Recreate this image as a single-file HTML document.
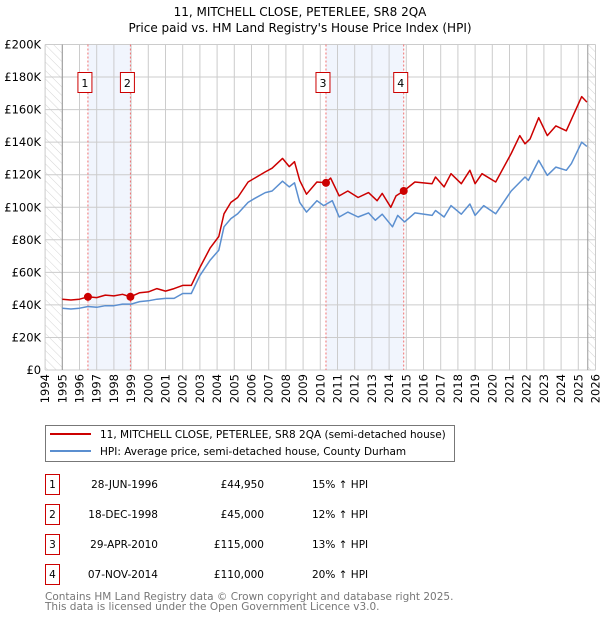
<!DOCTYPE html>
<html><head><meta charset="utf-8"><style>
body{margin:0;background:#fff;font-family:"Liberation Sans","DejaVu Sans",sans-serif;}
svg text{font-family:"DejaVu Sans","Liberation Sans",sans-serif;}
</style></head><body>
<svg id="chart" width="600" height="620" viewBox="0 0 600 620">
<defs>
<pattern id="hatch" width="6" height="6" patternUnits="userSpaceOnUse" patternTransform="rotate(-45)">
<line x1="0" y1="0" x2="0" y2="6" stroke="#d4d4d4" stroke-width="1"/></pattern>
</defs>
<text x="300" y="16" text-anchor="middle" font-size="12" fill="#000">11, MITCHELL CLOSE, PETERLEE, SR8 2QA</text>
<text x="300" y="32" text-anchor="middle" font-size="12" fill="#000">Price paid vs. HM Land Registry's House Price Index (HPI)</text>
<g id="plot"></g>
<g>
<rect x="45.5" y="425.5" width="409" height="36" fill="#fff" stroke="#777"/>
<line x1="50" y1="434" x2="91" y2="434" stroke="#cc0000" stroke-width="2"/>
<text x="100" y="438" font-size="10.5">11, MITCHELL CLOSE, PETERLEE, SR8 2QA (semi-detached house)</text>
<line x1="50" y1="451" x2="91" y2="451" stroke="#5b8fd0" stroke-width="2"/>
<text x="100" y="455" font-size="10.5">HPI: Average price, semi-detached house, County Durham</text>
</g>
<g id="table" font-size="10.5"></g>
<text x="45" y="600" font-size="10.5" fill="#777">Contains HM Land Registry data © Crown copyright and database right 2025.</text>
<text x="45" y="610" font-size="10.5" fill="#777">This data is licensed under the Open Government Licence v3.0.</text>
</svg>
<script>
const yearTicks=[1994,1995,1996,1997,1998,1999,2000,2001,2002,2003,2004,2005,2006,2007,2008,2009,2010,2011,2012,2013,2014,2015,2016,2017,2018,2019,2020,2021,2022,2023,2024,2025,2026];
const valueTicks=[0,20000,40000,60000,80000,100000,120000,140000,160000,180000,200000];
const valueTickLabels=["£0","£20K","£40K","£60K","£80K","£100K","£120K","£140K","£160K","£180K","£200K"];
const priceYears=[1995,1995.5,1996,1996.49,1997,1997.5,1998,1998.5,1998.96,1999.5,2000,2000.5,2001,2001.5,2002,2002.5,2003,2003.6,2004.1,2004.4,2004.8,2005.2,2005.8,2006.2,2006.8,2007.2,2007.8,2008.2,2008.5,2008.8,2009.2,2009.8,2010.33,2010.6,2011.1,2011.6,2012.2,2012.8,2013.3,2013.6,2014.1,2014.4,2014.85,2015.5,2016.5,2016.7,2017.2,2017.6,2018.2,2018.7,2019.0,2019.4,2020.2,2021.1,2021.6,2021.9,2022.2,2022.7,2023.2,2023.7,2024.3,2024.6,2025.2,2025.5];
const priceValues=[43.5,43,43.5,44.95,44.5,46,45.5,46.5,45,47.5,48,50,48.5,50,52,52,63,75,82,96,103,106,115.5,118,121.7,124,130,125,128,116.5,108,115.5,115,118,107,110,106,109,104,108.5,100,107,110,115.5,114.5,118.6,112.5,120.6,114.5,122.7,114.5,120.6,115.5,133,144,139,142,155,144,150,147,154,168,164.6];
const hpiYears=[1995,1995.5,1996,1996.5,1997,1997.5,1998,1998.5,1999,1999.5,2000,2000.5,2001,2001.5,2002,2002.5,2003,2003.6,2004.1,2004.4,2004.8,2005.2,2005.8,2006.2,2006.8,2007.2,2007.8,2008.2,2008.5,2008.8,2009.2,2009.8,2010.2,2010.7,2011.1,2011.6,2012.2,2012.8,2013.2,2013.6,2014.2,2014.5,2014.9,2015.5,2016.5,2016.7,2017.2,2017.6,2018.2,2018.7,2019.0,2019.5,2020.2,2021.1,2021.9,2022.1,2022.7,2023.2,2023.7,2024.3,2024.6,2025.2,2025.5];
const hpiValues=[38,37.5,38,39,38.5,39.5,39.5,40.5,40.5,42,42.5,43.5,44,44,47,47,58,67.5,73.6,88,93,96,103,105.5,109,110,116,112.5,115,103,97,104,101,104,94,97,94,96.5,92,95.7,88,95,91,96.5,95,98,94,101,95.7,102,95,101,96,110,118.6,116.5,128.8,119.6,124.7,122.7,126.8,140,137.4];
const saleYears=[1996.49,1998.96,2010.33,2014.85];
const saleValues=[44950,45000,115000,110000];
const saleLabels=["1","2","3","4"];
const saleDates=["28-JUN-1996","18-DEC-1998","29-APR-2010","07-NOV-2014"];
const salePrices=["£44,950","£45,000","£115,000","£110,000"];
const saleHpi=["15% ↑ HPI","12% ↑ HPI","13% ↑ HPI","20% ↑ HPI"];

const L=45.1,R=595.5,T=44.5,B=370;
const X=y=>L+(y-1994)/(2026-1994)*(R-L);
const Y=v=>B-v/200000*(B-T);
const NS="http://www.w3.org/2000/svg";
const plot=document.getElementById('plot');
function mk(tag,attrs,parent){const e=document.createElementNS(NS,tag);for(const k in attrs)e.setAttribute(k,attrs[k]);(parent||plot).appendChild(e);return e;}

let e;
e=mk('rect',{x:L,y:T,width:R-L,height:B-T,fill:'#fff'});


e=mk('rect',{x:L,y:T,width:X(1995)-L,height:B-T,fill:'url(#hatch)'});


e=mk('rect',{x:X(2025.55),y:T,width:R-X(2025.55),height:B-T,fill:'url(#hatch)'});


for(let i=0;i<saleYears.length;i+=2){
  e=mk('rect',{x:X(saleYears[i]),y:T,width:X(saleYears[i+1])-X(saleYears[i]),height:B-T,fill:'#eef3fd',opacity:0.8});
  
  
}
yearTicks.forEach(yr=>{
  e=mk('line',{x1:X(yr),x2:X(yr),y1:T,y2:B,stroke:'#ccc','stroke-width':1});
  
  
  const t=mk('text',{x:0,y:0,'font-size':11.5,'text-anchor':'end',transform:`translate(${X(yr)+4},${B+4}) rotate(-90)`});
  t.textContent=yr;
  
  
});
valueTicks.forEach((v,i)=>{
  e=mk('line',{x1:L,x2:R,y1:Y(v),y2:Y(v),stroke:'#ccc','stroke-width':1});
  
  
  const t=mk('text',{x:L-4,y:Y(v)+4,'font-size':11.5,'text-anchor':'end'});
  t.textContent=valueTickLabels[i];
  
  
});
e=mk('line',{x1:X(1995),x2:X(1995),y1:T,y2:B,stroke:'#999'});


e=mk('line',{x1:X(2025.55),x2:X(2025.55),y1:T,y2:B,stroke:'#999'});


saleYears.forEach((yr,i)=>{
  e=mk('line',{x1:X(yr),x2:X(yr),y1:T,y2:B,stroke:'#f07070','stroke-dasharray':'2,2','stroke-width':1});
  
  
  e=mk('rect',{x:X(yr)-10,y:72.5,width:14,height:20,fill:'#fff',stroke:'#cc0000'});
  
  
  const t=mk('text',{x:X(yr)-3,y:87,'font-size':11,'text-anchor':'middle'});
  t.textContent=saleLabels[i];
  
  
});
e=mk('path',{d:hpiYears.map((y,i)=>(i?'L':'M')+X(y).toFixed(1)+','+Y(hpiValues[i]*1000).toFixed(1)).join(''),fill:'none',stroke:'#5b8fd0','stroke-width':1.5,'stroke-linejoin':'round'});


e=mk('path',{d:priceYears.map((y,i)=>(i?'L':'M')+X(y).toFixed(1)+','+Y(priceValues[i]*1000).toFixed(1)).join(''),fill:'none',stroke:'#cc0000','stroke-width':1.5,'stroke-linejoin':'round'});


saleYears.forEach((yr,i)=>{
  e=mk('circle',{cx:X(yr),cy:Y(saleValues[i]),r:4,fill:'#cc0000'});
  
  
});
const tb=document.getElementById('table');
saleLabels.forEach((lab,i)=>{
  const cy=485+i*30;
  e=mk('rect',{x:45.5,y:cy-10.5,width:14,height:20,fill:'#fff',stroke:'#cc0000'},tb);
  
  
  let t=mk('text',{x:52.5,y:cy+3,'text-anchor':'middle'},tb);t.textContent=lab;
  
  
  t=mk('text',{x:158,y:cy+3,'text-anchor':'end'},tb);t.textContent=saleDates[i];
  
  
  t=mk('text',{x:264,y:cy+3,'text-anchor':'end'},tb);t.textContent=salePrices[i];
  
  
  t=mk('text',{x:312,y:cy+3},tb);t.textContent=saleHpi[i];
  
  
});
</script>
</body></html>
